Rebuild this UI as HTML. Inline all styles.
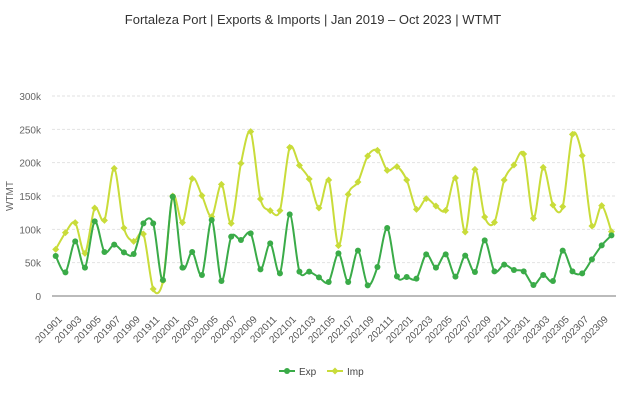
<!DOCTYPE html>
<html><head><meta charset="utf-8"><style>
html,body{margin:0;padding:0;background:#fff;width:626px;height:417px;overflow:hidden}
svg{display:block;font-family:"Liberation Sans",sans-serif}
</style></head><body>
<svg id="s" width="626" height="417" xmlns="http://www.w3.org/2000/svg">
<text x="313" y="24" text-anchor="middle" font-size="13" fill="#333">Fortaleza Port | Exports &amp; Imports | Jan 2019 – Oct 2023 | WTMT</text>
<text transform="translate(13,196) rotate(-90)" text-anchor="middle" font-size="10" fill="#666">WTMT</text>
</svg>
<script>
var s=document.getElementById('s'),NS='http://www.w3.org/2000/svg';
function el(t,a,txt){var e=document.createElementNS(NS,t);for(var k in a)e.setAttribute(k,a[k]);if(txt!=null)e.textContent=txt;s.appendChild(e);return e;}
var y0=296,yTop=96;
for(var i=0;i<=6;i++){var y=y0-(y0-yTop)*i/6;
 if(i>0)el('line',{x1:52,x2:616,y1:y,y2:y,stroke:'#e2e2e2','stroke-dasharray':'3,2','stroke-width':1});
 el('text',{x:41,y:y+4,'text-anchor':'end','font-size':10,fill:'#666'},i==0?'0':(i*50)+'k');}
el('line',{x1:52,x2:616,y1:y0,y2:y0,stroke:'#777','stroke-width':1});
var exp=[528,577,484,563,424,516,494,517,522,430,430,600,350,563,516,585,420,603,470,480,460,568,490,580,403,575,575,592,606,520,606,512,616,561,444,589,591,596,523,563,523,590,527,576,481,574,554,570,574,615,585,603,512,574,580,538,496,466];
var imp=[508,458,428,520,384,421,265,444,484,462,627,603,348,428,296,347,410,313,430,250,155,357,392,392,202,256,297,384,300,497,343,306,228,211,271,260,300,388,356,378,391,294,456,268,411,427,300,255,222,415,262,375,380,163,227,438,377,455];
function X(i){return 55.7+i*9.75;}
function P(a){return a.map(function(v,i){return [X(i),80+v/3];});}
function path(p){var d='M'+p[0][0]+','+p[0][1];for(var i=0;i<p.length-1;i++){var p0=p[i-1]||p[i],p1=p[i],p2=p[i+1],p3=p[i+2]||p2;var t=0.15;
 d+=' C'+(p1[0]+(p2[0]-p0[0])*t)+','+(p1[1]+(p2[1]-p0[1])*t)+' '+(p2[0]-(p3[0]-p1[0])*t)+','+(p2[1]-(p3[1]-p1[1])*t)+' '+p2[0]+','+p2[1];}return d;}
function series(a,c,dia){var p=P(a);el('path',{d:path(p),fill:'none',stroke:c,'stroke-width':2});
 p.forEach(function(q){if(dia)el('path',{d:'M'+q[0]+','+(q[1]-3.5)+'l3.5,3.5l-3.5,3.5l-3.5,-3.5z',fill:c});else el('circle',{cx:q[0],cy:q[1],r:3,fill:c});});}
series(imp,'#c9dc3a',true);
series(exp,'#3aab48',false);
for(var i=0;i<58;i+=2){var y=2019+Math.floor(i/12),m=i%12+1;var lab=''+y+(m<10?'0':'')+m;
 el('text',{transform:'translate('+(X(i)+7)+',320) rotate(-45)','text-anchor':'end','font-size':10,fill:'#555'},lab);}
el('line',{x1:279,x2:295,y1:371,y2:371,stroke:'#3aab48','stroke-width':2});el('circle',{cx:287,cy:371,r:3,fill:'#3aab48'});
el('text',{x:299,y:375,'font-size':10,fill:'#444'},'Exp');
el('line',{x1:327,x2:343,y1:371,y2:371,stroke:'#c9dc3a','stroke-width':2});el('path',{d:'M335,367.5l3.5,3.5l-3.5,3.5l-3.5,-3.5z',fill:'#c9dc3a'});
el('text',{x:347,y:375,'font-size':10,fill:'#444'},'Imp');
</script>
</body></html>
